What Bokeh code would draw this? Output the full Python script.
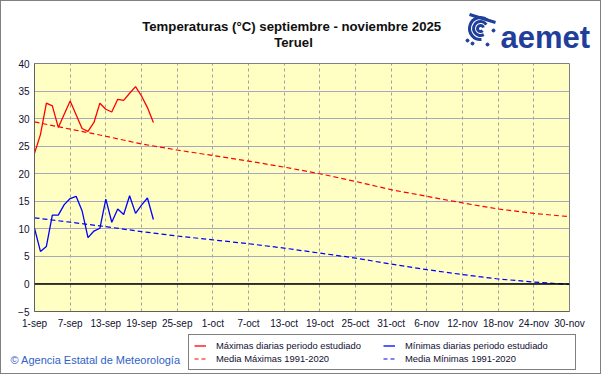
import pandas as pd
from bokeh.plotting import figure
from bokeh.layouts import column
from bokeh.models import (Label, Legend, LegendItem, Span, FixedTicker, Range1d, Plot)
from bokeh.embed import file_html
from bokeh.resources import INLINE

# ---- data ----
start = "2025-09-01"
obs_dates = ["2025-09-%02d" % d for d in range(1, 22)]
tmax = [23.7, 27.1, 32.8, 32.3, 28.4, 30.8, 33.2, 30.7, 28.2, 27.7, 29.3,
        32.8, 31.7, 31.2, 33.5, 33.3, 34.6, 35.8, 34.1, 32.0, 29.3]
tmin = [10.1, 5.9, 6.8, 12.5, 12.5, 14.4, 15.5, 15.9, 13.3, 8.4, 9.6,
        10.1, 15.4, 11.2, 13.6, 12.6, 16.0, 12.8, 14.3, 15.6, 11.7]

norm_dates = ["2025-09-01", "2025-09-07", "2025-09-13", "2025-09-19", "2025-09-25",
              "2025-10-01", "2025-10-07", "2025-10-13", "2025-10-19", "2025-10-25",
              "2025-10-31", "2025-11-06", "2025-11-12", "2025-11-18", "2025-11-24",
              "2025-11-30"]
norm_max = [29.4, 28.1, 26.8, 25.4, 24.3, 23.3, 22.3, 21.2, 20.0, 18.6,
            17.1, 15.9, 14.7, 13.6, 12.8, 12.2]
norm_min = [12.0, 11.2, 10.4, 9.5, 8.7, 8.0, 7.3, 6.5, 5.6, 4.7,
            3.6, 2.6, 1.7, 0.9, 0.35, -0.1]

tick_labels = ["1-sep", "7-sep", "13-sep", "19-sep", "25-sep", "1-oct", "7-oct",
               "13-oct", "19-oct", "25-oct", "31-oct", "6-nov", "12-nov",
               "18-nov", "24-nov", "30-nov"]

title1 = "Temperaturas (°C) septiembre  - noviembre 2025"
title2 = "Teruel"
credit = "© Agencia Estatal de Meteorología"
labels = ["Máximas diarias periodo estudiado", "Media Máximas 1991-2020",
          "Mínimas diarias periodo estudiado", "Media Mínimas 1991-2020"]

t0 = pd.Timestamp(start)
def day(d):
    return (pd.Timestamp(d) - t0).days

obs_x = [day(d) for d in obs_dates]
norm_x = [day(d) for d in norm_dates]
tick_x = [day(d) for d in norm_dates]

FONT = "Liberation Sans"
W = 599
RED, BLUE = "#FF0000", "#0000FF"
NAN = float("nan")
HAS_ALIGN = "frame_align" in Plot.properties()

def blank(h):
    f = figure(width=W, height=h, output_backend="svg", toolbar_location=None,
               x_range=Range1d(0, W), y_range=Range1d(0, h),
               x_axis_type=None, y_axis_type=None,
               min_border=0, min_border_left=0, min_border_right=0,
               min_border_top=0, min_border_bottom=0)
    if HAS_ALIGN:
        f.frame_align = False
    f.grid.visible = False
    f.outline_line_color = None
    f.background_fill_color = "white"
    f.border_fill_color = "white"
    return f

# ---- header ----
H1 = 55
hd = blank(H1)
hd.add_layout(Label(x=292, y=30, text=title1, text_align="center",
                    text_baseline="middle", text_font=FONT, text_font_style="bold",
                    text_font_size="13.2px", text_color="#101010"))
hd.add_layout(Label(x=292, y=14, text=title2, text_align="center",
                    text_baseline="middle", text_font=FONT, text_font_style="bold",
                    text_font_size="13.2px", text_color="#101010"))
hd.add_layout(Label(x=499, y=19, text="aemet", text_align="left",
                    text_baseline="alphabetic", text_font=FONT,
                    text_font_style="bold", text_font_size="31px",
                    text_color="#1F3F9A"))
# logo swirl (decorative)
LOGO = "#1F3F9A"
hd.arc(x=[479, 479, 479], y=[28, 28, 28], radius=[3, 7, 11],
       start_angle=[0.3, 0.6, 0.9], end_angle=[5.5, 5.2, 4.8],
       line_color=LOGO, line_width=3)
hd.scatter(x=[466, 492, 471, 486], y=[16, 26, 13, 12], size=3,
           color=LOGO)
hd.line(x=[468, 494], y=[42, 34], line_color=LOGO, line_width=3)

# ---- main plot ----
p = figure(width=W, height=275, output_backend="svg", toolbar_location=None,
           x_range=Range1d(0, 90), y_range=Range1d(-5, 40),
           min_border_left=33, min_border_right=31, min_border_top=7,
           min_border_bottom=20)
if HAS_ALIGN:
    p.frame_align = False
p.background_fill_color = "#FFFFC4"
p.border_fill_color = "white"
p.outline_line_color = "#808080"

p.xaxis.ticker = FixedTicker(ticks=tick_x)
p.xaxis.major_label_overrides = {x: l for x, l in zip(tick_x, tick_labels)}
p.yaxis.ticker = FixedTicker(ticks=list(range(-5, 41, 5)))
for ax in (p.xaxis[0], p.yaxis[0]):
    ax.major_tick_out = 0
    ax.major_tick_in = 0
    ax.minor_tick_out = 0
    ax.minor_tick_in = 0
    ax.axis_line_color = "#606060"
    ax.major_label_text_font = FONT
    ax.major_label_text_font_size = "10px"
    ax.major_label_text_color = "#101030"
p.xaxis.major_label_standoff = 6
p.yaxis.major_label_standoff = 5

p.xgrid.grid_line_color = "#A0A0A0"
p.xgrid.grid_line_dash = "3 3"
p.ygrid.grid_line_color = "#A8A8BC"

p.add_layout(Span(location=0, dimension="width", line_color="black", line_width=1.5))

p.line(norm_x, norm_max, line_color=RED, line_dash="5 3", line_width=1.2)
p.line(norm_x, norm_min, line_color=BLUE, line_dash="5 3", line_width=1.2)
p.line(obs_x, tmax, line_color=RED, line_width=1.3)
p.line(obs_x, tmin, line_color=BLUE, line_width=1.3)

# ---- footer with legend ----
H3 = 42
ft = blank(H3)
k1 = ft.line(x=[NAN], y=[NAN], line_color=RED, line_width=1.3)
k2 = ft.line(x=[NAN], y=[NAN], line_color=RED, line_dash="4 3", line_width=1.2)
k3 = ft.line(x=[NAN], y=[NAN], line_color=BLUE, line_width=1.3)
k4 = ft.line(x=[NAN], y=[NAN], line_color=BLUE, line_dash="4 3", line_width=1.2)
legend = Legend(items=[LegendItem(label=l, renderers=[r])
                       for l, r in zip(labels, [k1, k2, k3, k4])],
                location=(187, 3), nrows=2, orientation="vertical",
                label_text_font=FONT, label_text_font_size="9.4px",
                label_text_color="#101030",
                glyph_width=12, glyph_height=11, label_height=11, label_width=165,
                label_standoff=10, spacing=2, padding=5, margin=0,
                border_line_color="black", border_line_width=1,
                background_fill_color="white", background_fill_alpha=1.0)
ft.add_layout(legend, "center")
ft.add_layout(Label(x=9, y=14, text=credit, text_align="left",
                    text_baseline="middle", text_font=FONT,
                    text_font_size="11px", text_color="#2F62C8"))

layout = column(hd, p, ft, spacing=0)
layout.styles = {"border": "1px solid #808080"}

open("out.html", "w").write(file_html(layout, INLINE))
